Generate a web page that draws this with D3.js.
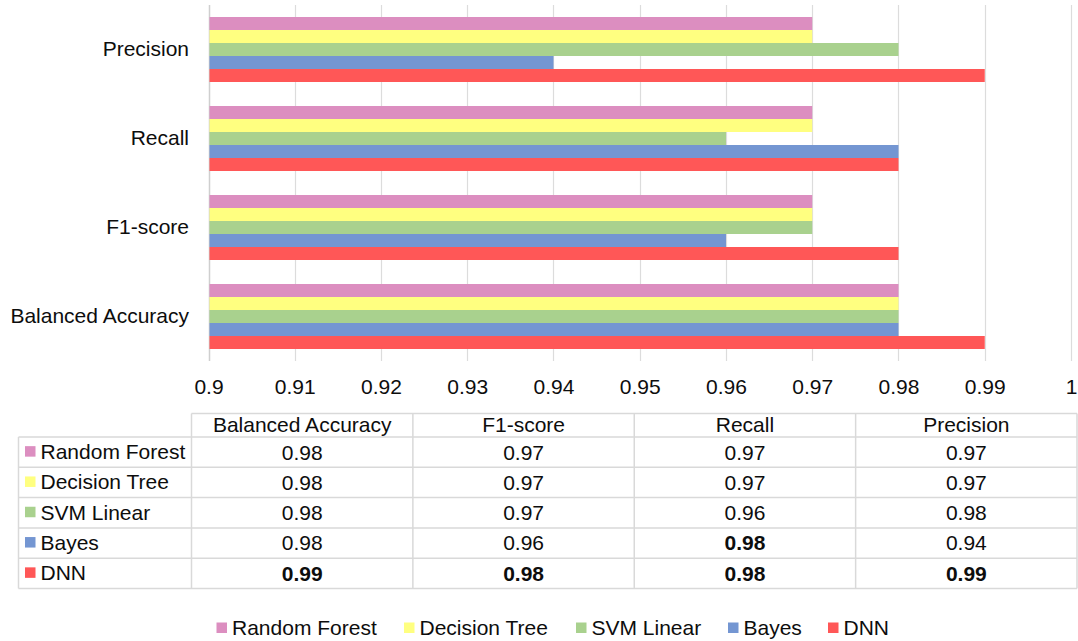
<!DOCTYPE html>
<html>
<head>
<meta charset="utf-8">
<script src="https://cdn.jsdelivr.net/npm/d3@7/dist/d3.min.js"></script>
<style>
  html, body { margin: 0; padding: 0; background: #fff; }
  svg { display: block; font-family: "Liberation Sans", Arial, sans-serif; }
</style>
</head>
<body>
<svg id="chart" width="1078" height="641"></svg>
<script>
// Metric categories, listed top to bottom on the chart
const categories = ["Precision", "Recall", "F1-score", "Balanced Accuracy"];
// Models, in the order they stack inside each group (top to bottom)
const models = ["Random Forest", "Decision Tree", "SVM Linear", "Bayes", "DNN"];
const colors = ["#DC8EC0", "#FFFF80", "#A9D18E", "#7496D2", "#FF5757"];

// Scores per model, aligned with categories
const randomForest = [0.97, 0.97, 0.97, 0.98];
const decisionTree = [0.97, 0.97, 0.97, 0.98];
const svmLinear    = [0.98, 0.96, 0.97, 0.98];
const bayes        = [0.94, 0.98, 0.96, 0.98];
const dnn          = [0.99, 0.98, 0.98, 0.99];
const seriesValues = [randomForest, decisionTree, svmLinear, bayes, dnn];

// Cells shown in bold in the data table: [model, category]
const boldCells = [["Bayes", "Recall"], ["DNN", "Precision"], ["DNN", "Recall"], ["DNN", "F1-score"], ["DNN", "Balanced Accuracy"]];

const tickValues = [0.9, 0.91, 0.92, 0.93, 0.94, 0.95, 0.96, 0.97, 0.98, 0.99, 1.0];
const tickLabels = ["0.9", "0.91", "0.92", "0.93", "0.94", "0.95", "0.96", "0.97", "0.98", "0.99", "1"];

// Table columns run in the reverse order of the plot rows
const tableColumns = categories.slice().reverse();

const svg = d3.select("#chart");
const FS = 21;
const INK = "#0d0d0d";

const plot = { left: 208.5, right: 1071, top: 5, bottom: 361 };

const x = d3.scaleLinear().domain([0.9, 1.0]).range([plot.left, plot.right]);
const pad = 24 / 89;
const y = d3.scaleBand().domain(categories).range([plot.top, plot.bottom])
  .paddingInner(pad).paddingOuter(pad / 2);
const yInner = d3.scaleBand().domain(models).range([0, y.bandwidth()]);

// Vertical gridlines
const grid = svg.append("g").attr("class", "grid");
grid.selectAll("line").data(tickValues).join("line")
  .attr("x1", d => Math.round(x(d)) + 0.5)
  .attr("x2", d => Math.round(x(d)) + 0.5)
  .attr("y1", plot.top)
  .attr("y2", plot.bottom)
  .attr("stroke", (d, i) => i === 0 ? "#cfcfcf" : "#dcdcdc")
  .attr("stroke-width", (d, i) => i === 0 ? 1.5 : 1.2);

// Bars
const rows = [];
models.forEach((m, mi) => {
  categories.forEach((c, ci) => rows.push({ model: m, cat: c, value: seriesValues[mi][ci], color: colors[mi] }));
});
svg.append("g").attr("class", "bars").selectAll("rect").data(rows).join("rect")
  .attr("x", x(0.9) + 1)
  .attr("y", d => y(d.cat) + yInner(d.model))
  .attr("width", d => x(d.value) - x(0.9) - 1)
  .attr("height", yInner.bandwidth())
  .attr("fill", d => d.color);

// Category labels
svg.append("g").selectAll("text").data(categories).join("text")
  .attr("x", 189)
  .attr("y", d => y(d) + y.bandwidth() / 2)
  .attr("dy", "0.3em")
  .attr("text-anchor", "end")
  .attr("font-size", FS)
  .attr("fill", INK)
  .text(d => d);

// Value axis tick labels
const axis = d3.axisBottom(x).tickValues(tickValues)
  .tickFormat((d, i) => tickLabels[i]).tickSize(0).tickPadding(0);
const axisG = svg.append("g").attr("transform", `translate(0,${plot.bottom})`).call(axis);
axisG.select(".domain").remove();
axisG.selectAll("text")
  .attr("y", 33)
  .attr("dy", 0)
  .attr("font-size", FS)
  .attr("font-family", "Liberation Sans, Arial, sans-serif")
  .attr("fill", INK);

// Data table
const table = { left: 18.5, labelRight: 191.5, right: 1077, headTop: 413.5, headBottom: 437, bottom: 588.5 };
const colX = d3.scaleBand().domain(tableColumns).range([table.labelRight, table.right]);
const rowY = d3.scaleBand().domain(models).range([table.headBottom, table.bottom]);
const tg = svg.append("g").attr("class", "table");
const lineColor = "#d9d9d9";
const lw = 1.5;

// horizontal lines
tg.append("line").attr("x1", table.labelRight).attr("x2", table.right)
  .attr("y1", table.headTop).attr("y2", table.headTop);
tg.selectAll("line.h").data([table.headBottom].concat(models.map(m => rowY(m) + rowY.bandwidth())))
  .join("line").attr("class", "h")
  .attr("x1", table.left).attr("x2", table.right)
  .attr("y1", d => d).attr("y2", d => d);
// vertical lines
tg.append("line").attr("x1", table.left).attr("x2", table.left)
  .attr("y1", table.headBottom).attr("y2", table.bottom);
tg.selectAll("line.v").data(tableColumns.map(c => colX(c)).concat([table.right]))
  .join("line").attr("class", "v")
  .attr("x1", d => d).attr("x2", d => d)
  .attr("y1", table.headTop).attr("y2", table.bottom);
tg.selectAll("line").attr("stroke", lineColor).attr("stroke-width", lw);

// header text
tg.selectAll("text.head").data(tableColumns).join("text").attr("class", "head")
  .attr("x", d => colX(d) + colX.bandwidth() / 2)
  .attr("y", (table.headTop + table.headBottom) / 2)
  .attr("dy", "0.33em")
  .attr("text-anchor", "middle")
  .attr("font-size", FS)
  .attr("fill", INK)
  .text(d => d);

// row labels with colour keys
const rowG = tg.selectAll("g.row").data(models).join("g").attr("class", "row")
  .attr("transform", d => `translate(0,${rowY(d) + rowY.bandwidth() / 2})`);
rowG.append("rect").attr("x", 25).attr("y", -6).attr("width", 10.5).attr("height", 10.5)
  .attr("fill", (d, i) => colors[i]);
rowG.append("text").attr("x", 40.5).attr("dy", "0.33em")
  .attr("font-size", FS).attr("fill", INK).text(d => d);

// value cells
const isBold = (m, c) => boldCells.some(b => b[0] === m && b[1] === c);
models.forEach((m, mi) => {
  tg.append("g").selectAll("text").data(tableColumns).join("text")
    .attr("x", c => colX(c) + colX.bandwidth() / 2)
    .attr("y", rowY(m) + rowY.bandwidth() / 2)
    .attr("dy", "0.35em")
    .attr("text-anchor", "middle")
    .attr("font-size", FS)
    .attr("font-weight", c => isBold(m, c) ? "bold" : "normal")
    .attr("fill", INK)
    .text(c => seriesValues[mi][categories.indexOf(c)].toFixed(2));
});

// Legend along the bottom
const legendX = [216.5, 404, 576, 728, 828];
const lg = svg.append("g").attr("class", "legend").attr("transform", "translate(0,628)");
const item = lg.selectAll("g").data(models).join("g")
  .attr("transform", (d, i) => `translate(${legendX[i]},0)`);
item.append("rect").attr("x", 0).attr("y", -5.5).attr("width", 10.5).attr("height", 10.5)
  .attr("fill", (d, i) => colors[i]);
item.append("text").attr("x", 15.5).attr("dy", "0.35em")
  .attr("font-size", FS).attr("fill", INK).text(d => d);
</script>
</body>
</html>
